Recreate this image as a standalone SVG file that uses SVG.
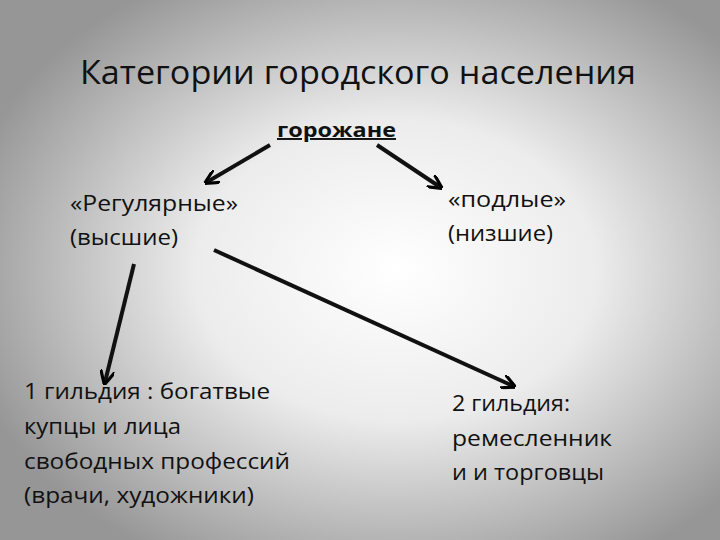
<svg xmlns="http://www.w3.org/2000/svg" width="720" height="540" viewBox="0 0 720 540">
<defs>
<radialGradient id="bg" cx="0.55" cy="0.5" r="0.62">
<stop offset="0" stop-color="#ffffff"/>
<stop offset="0.45" stop-color="#ececec"/>
<stop offset="1" stop-color="#969696"/>
</radialGradient>
<marker id="ah" viewBox="0 0 10 10" refX="8" refY="5" markerWidth="3.6" markerHeight="3.6" orient="auto" markerUnits="strokeWidth">
<path d="M0,0 L10,5 L0,10" fill="none" stroke="#000" stroke-width="2.2"/>
</marker>
<style>
text{font-family:"Open Sans","Noto Sans","DejaVu Sans",sans-serif;fill:#111;}
.t{font-size:33px;}
.n{font-size:21.5px;}
.c line{stroke:#111;stroke-width:4;marker-end:url(#ah);}
</style>
</defs>
<rect width="720" height="540" fill="url(#bg)"/>
<g id="title"><text class="t" x="80" y="84" textLength="556" lengthAdjust="spacingAndGlyphs">Категории городского населения</text></g>
<g id="gorozhane"><text x="277" y="137" font-size="19.5" font-weight="bold" text-decoration="underline" textLength="119" lengthAdjust="spacingAndGlyphs">горожане</text></g>
<g id="regular"><text class="n" x="70" y="211" textLength="168" lengthAdjust="spacingAndGlyphs">«Регулярные»</text><text class="n" x="70" y="245" textLength="108" lengthAdjust="spacingAndGlyphs">(высшие)</text></g>
<g id="podlye"><text class="n" x="448" y="207" textLength="118" lengthAdjust="spacingAndGlyphs">«подлые»</text><text class="n" x="448" y="241" textLength="105" lengthAdjust="spacingAndGlyphs">(низшие)</text></g>
<g id="guild1"><text class="n" x="24" y="399" textLength="246" lengthAdjust="spacingAndGlyphs">1 гильдия : богатвые</text><text class="n" x="24" y="434" textLength="157" lengthAdjust="spacingAndGlyphs">купцы и лица</text><text class="n" x="24" y="469" textLength="266" lengthAdjust="spacingAndGlyphs">свободных профессий</text><text class="n" x="24" y="503" textLength="230" lengthAdjust="spacingAndGlyphs">(врачи, художники)</text></g>
<g id="guild2"><text class="n" x="452" y="411" textLength="118" lengthAdjust="spacingAndGlyphs">2 гильдия:</text><text class="n" x="452" y="446" textLength="160" lengthAdjust="spacingAndGlyphs">ремесленник</text><text class="n" x="452" y="480" textLength="152" lengthAdjust="spacingAndGlyphs">и и торговцы</text></g>
<g id="connectors" class="c">
<line x1="270" y1="145" x2="207" y2="182"/>
<line x1="377" y1="145" x2="440" y2="187"/>
<line x1="134" y1="264" x2="105" y2="382"/>
<line x1="214" y1="250" x2="513" y2="386"/>
</g>
</svg>
